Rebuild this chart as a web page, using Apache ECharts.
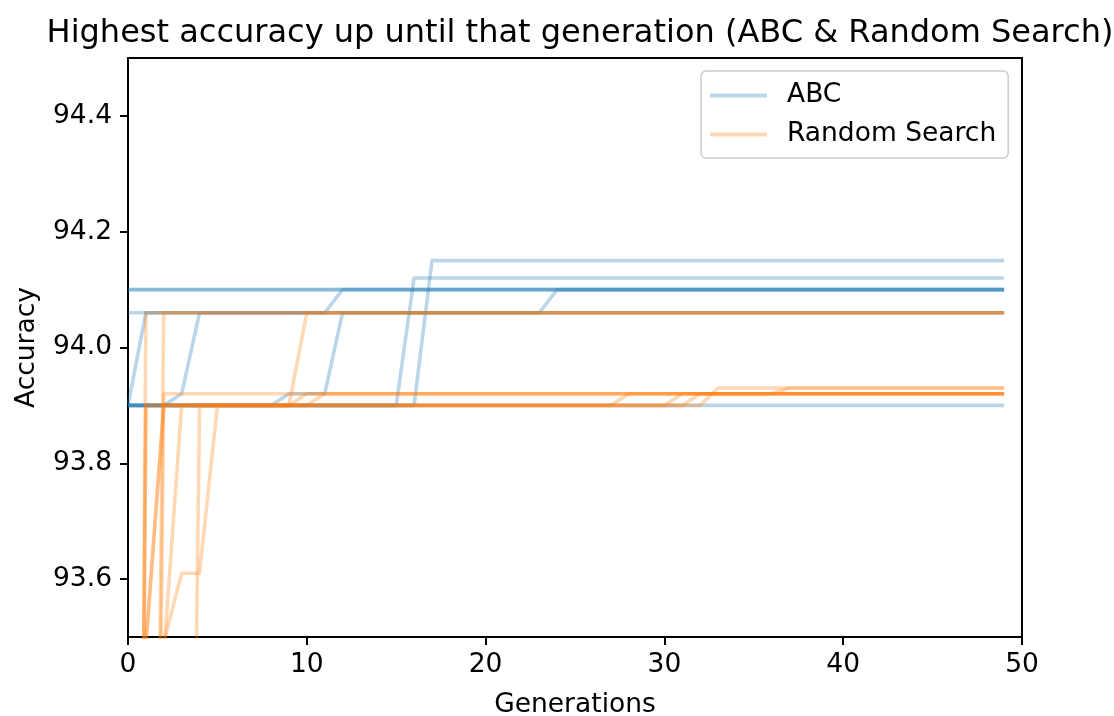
<!DOCTYPE html>
<html><head><meta charset="utf-8">
<script src="https://cdn.jsdelivr.net/npm/echarts@6/dist/echarts.min.js"></script>
<style>html,body{margin:0;padding:0;background:#fff}#c{width:1114px;height:716px}</style>
</head><body><div id="c"></div>
<script>
// Generations (x values)
const generations = [0,1,2,3,4,5,6,7,8,9,10,11,12,13,14,15,16,17,18,19,20,21,22,23,24,25,26,27,28,29,30,31,32,33,34,35,36,37,38,39,40,41,42,43,44,45,46,47,48,49];

// ABC runs: highest accuracy so far per generation
const abc1 = [94.10,94.10,94.10,94.10,94.10,94.10,94.10,94.10,94.10,94.10, 94.10,94.10,94.10,94.10,94.10,94.10,94.10,94.10,94.10,94.10, 94.10,94.10,94.10,94.10,94.10,94.10,94.10,94.10,94.10,94.10, 94.10,94.10,94.10,94.10,94.10,94.10,94.10,94.10,94.10,94.10, 94.10,94.10,94.10,94.10,94.10,94.10,94.10,94.10,94.10,94.10];
const abc2 = [94.10,94.10,94.10,94.10,94.10,94.10,94.10,94.10,94.10,94.10, 94.10,94.10,94.10,94.10,94.10,94.10,94.10,94.10,94.10,94.10, 94.10,94.10,94.10,94.10,94.10,94.10,94.10,94.10,94.10,94.10, 94.10,94.10,94.10,94.10,94.10,94.10,94.10,94.10,94.10,94.10, 94.10,94.10,94.10,94.10,94.10,94.10,94.10,94.10,94.10,94.10];
const abc3 = [94.06,94.06,94.06,94.06,94.06,94.06,94.06,94.06,94.06,94.06, 94.06,94.06,94.10,94.10,94.10,94.10,94.10,94.10,94.10,94.10, 94.10,94.10,94.10,94.10,94.10,94.10,94.10,94.10,94.10,94.10, 94.10,94.10,94.10,94.10,94.10,94.10,94.10,94.10,94.10,94.10, 94.10,94.10,94.10,94.10,94.10,94.10,94.10,94.10,94.10,94.10];
const abc4 = [93.90,94.06,94.06,94.06,94.06,94.06,94.06,94.06,94.06,94.06, 94.06,94.06,94.06,94.06,94.06,94.06,94.06,94.06,94.06,94.06, 94.06,94.06,94.06,94.06,94.10,94.10,94.10,94.10,94.10,94.10, 94.10,94.10,94.10,94.10,94.10,94.10,94.10,94.10,94.10,94.10, 94.10,94.10,94.10,94.10,94.10,94.10,94.10,94.10,94.10,94.10];
const abc5 = [93.90,93.90,93.90,93.92,94.06,94.06,94.06,94.06,94.06,94.06, 94.06,94.06,94.06,94.06,94.06,94.06,94.06,94.06,94.06,94.06, 94.06,94.06,94.06,94.06,94.06,94.06,94.06,94.06,94.06,94.06, 94.06,94.06,94.06,94.06,94.06,94.06,94.06,94.06,94.06,94.06, 94.06,94.06,94.06,94.06,94.06,94.06,94.06,94.06,94.06,94.06];
const abc6 = [93.90,93.90,93.90,93.90,93.90,93.90,93.90,93.90,93.90,93.92, 93.92,93.92,94.06,94.06,94.06,94.06,94.06,94.06,94.06,94.06, 94.06,94.06,94.06,94.06,94.06,94.06,94.06,94.06,94.06,94.06, 94.06,94.06,94.06,94.06,94.06,94.06,94.06,94.06,94.06,94.06, 94.06,94.06,94.06,94.06,94.06,94.06,94.06,94.06,94.06,94.06];
const abc7 = [93.90,93.90,93.90,93.90,93.90,93.90,93.90,93.90,93.90,93.90, 93.90,93.90,93.90,93.90,93.90,93.90,94.12,94.12,94.12,94.12, 94.12,94.12,94.12,94.12,94.12,94.12,94.12,94.12,94.12,94.12, 94.12,94.12,94.12,94.12,94.12,94.12,94.12,94.12,94.12,94.12, 94.12,94.12,94.12,94.12,94.12,94.12,94.12,94.12,94.12,94.12];
const abc8 = [93.90,93.90,93.90,93.90,93.90,93.90,93.90,93.90,93.90,93.90, 93.90,93.90,93.90,93.90,93.90,93.90,93.90,94.15,94.15,94.15, 94.15,94.15,94.15,94.15,94.15,94.15,94.15,94.15,94.15,94.15, 94.15,94.15,94.15,94.15,94.15,94.15,94.15,94.15,94.15,94.15, 94.15,94.15,94.15,94.15,94.15,94.15,94.15,94.15,94.15,94.15];
const abc9 = [93.90,93.90,93.90,93.90,93.90,93.90,93.90,93.90,93.90,93.90, 93.90,93.90,93.90,93.90,93.90,93.90,93.90,93.90,93.90,93.90, 93.90,93.90,93.90,93.90,93.90,93.90,93.90,93.90,93.90,93.90, 93.90,93.90,93.90,93.90,93.90,93.90,93.90,93.90,93.90,93.90, 93.90,93.90,93.90,93.90,93.90,93.90,93.90,93.90,93.90,93.90];

// Random Search runs
const rs1 = [89.6,94.06,94.06,94.06,94.06,94.06,94.06,94.06,94.06,94.06, 94.06,94.06,94.06,94.06,94.06,94.06,94.06,94.06,94.06,94.06, 94.06,94.06,94.06,94.06,94.06,94.06,94.06,94.06,94.06,94.06, 94.06,94.06,94.06,94.06,94.06,94.06,94.06,94.06,94.06,94.06, 94.06,94.06,94.06,94.06,94.06,94.06,94.06,94.06,94.06,94.06];
const rs2 = [89.2,91.4,94.06,94.06,94.06,94.06,94.06,94.06,94.06,94.06, 94.06,94.06,94.06,94.06,94.06,94.06,94.06,94.06,94.06,94.06, 94.06,94.06,94.06,94.06,94.06,94.06,94.06,94.06,94.06,94.06, 94.06,94.06,94.06,94.06,94.06,94.06,94.06,94.06,94.06,94.06, 94.06,94.06,94.06,94.06,94.06,94.06,94.06,94.06,94.06,94.06];
const rs3 = [88.9,91.0,93.92,93.92,93.92,93.92,93.92,93.92,93.92,93.92, 93.92,93.92,93.92,93.92,93.92,93.92,93.92,93.92,93.92,93.92, 93.92,93.92,93.92,93.92,93.92,93.92,93.92,93.92,93.92,93.92, 93.92,93.92,93.92,93.92,93.92,93.92,93.92,93.93,93.93,93.93, 93.93,93.93,93.93,93.93,93.93,93.93,93.93,93.93,93.93,93.93];
const rs4 = [89.8,93.90,93.90,93.90,93.90,93.90,93.90,93.90,93.90,93.90, 94.06,94.06,94.06,94.06,94.06,94.06,94.06,94.06,94.06,94.06, 94.06,94.06,94.06,94.06,94.06,94.06,94.06,94.06,94.06,94.06, 94.06,94.06,94.06,94.06,94.06,94.06,94.06,94.06,94.06,94.06, 94.06,94.06,94.06,94.06,94.06,94.06,94.06,94.06,94.06,94.06];
const rs5 = [90.1,93.90,93.90,93.90,93.90,93.90,93.90,93.90,93.90,93.90, 93.92,93.92,93.92,93.92,93.92,93.92,93.92,93.92,93.92,93.92, 93.92,93.92,93.92,93.92,93.92,93.92,93.92,93.92,93.92,93.92, 93.92,93.92,93.92,93.92,93.92,93.92,93.92,93.92,93.92,93.92, 93.92,93.92,93.92,93.92,93.92,93.92,93.92,93.92,93.92,93.92];
const rs6 = [89.4,93.48,93.90,93.90,93.90,93.90,93.90,93.90,93.90,93.90, 93.90,93.92,93.92,93.92,93.92,93.92,93.92,93.92,93.92,93.92, 93.92,93.92,93.92,93.92,93.92,93.92,93.92,93.92,93.92,93.92, 93.92,93.92,93.92,93.92,93.92,93.92,93.92,93.92,93.92,93.92, 93.92,93.92,93.92,93.92,93.92,93.92,93.92,93.92,93.92,93.92];
const rs7 = [89.0,93.49,93.90,93.90,93.90,93.90,93.90,93.90,93.90,93.90, 93.90,93.90,93.90,93.90,93.90,93.90,93.90,93.90,93.90,93.90, 93.90,93.90,93.90,93.90,93.90,93.90,93.90,93.90,93.92,93.92, 93.92,93.92,93.92,93.92,93.92,93.92,93.92,93.92,93.92,93.92, 93.92,93.92,93.92,93.92,93.92,93.92,93.92,93.92,93.92,93.92];
const rs8 = [88.7,91.6,93.47,93.90,93.90,93.90,93.90,93.90,93.90,93.90, 93.90,93.90,93.90,93.90,93.90,93.90,93.90,93.90,93.90,93.90, 93.90,93.90,93.90,93.90,93.90,93.90,93.90,93.90,93.90,93.90, 93.90,93.92,93.92,93.92,93.92,93.92,93.92,93.92,93.92,93.92, 93.92,93.92,93.92,93.92,93.92,93.92,93.92,93.92,93.92,93.92];
const rs9 = [88.5,91.9,93.49,93.61,93.61,93.90,93.90,93.90,93.90,93.90, 93.90,93.90,93.90,93.90,93.90,93.90,93.90,93.90,93.90,93.90, 93.90,93.90,93.90,93.90,93.90,93.90,93.90,93.90,93.90,93.90, 93.90,93.90,93.92,93.92,93.92,93.92,93.92,93.92,93.92,93.92, 93.92,93.92,93.92,93.92,93.92,93.92,93.92,93.92,93.92,93.92];
const rs10 = [88.2,90.6,91.1,91.5,93.90,93.90,93.90,93.90,93.90,93.90, 93.90,93.90,93.90,93.90,93.90,93.90,93.90,93.90,93.90,93.90, 93.90,93.90,93.90,93.90,93.90,93.90,93.90,93.90,93.90,93.90, 93.90,93.90,93.90,93.93,93.93,93.93,93.93,93.93,93.93,93.93, 93.93,93.93,93.93,93.93,93.93,93.93,93.93,93.93,93.93,93.93];

const abcRuns = [abc1, abc2, abc3, abc4, abc5, abc6, abc7, abc8, abc9];
const rsRuns = [rs1, rs2, rs3, rs4, rs5, rs6, rs7, rs8, rs9, rs10];

const xTicks = [0, 10, 20, 30, 40, 50];
const yTicks = [93.6, 93.8, 94.0, 94.2, 94.4];
const seriesNames = ['ABC', 'Random Search'];
const titleText = 'Highest accuracy up until that generation (ABC & Random Search)';

const FONT = 'DejaVu Sans';
const BLUE = 'rgba(31,119,180,0.3)';
const ORANGE = 'rgba(255,127,14,0.3)';
const FS = 26.5;

function mkSeries(name, color, run) {
  return {
    type: 'line', name: name, symbol: 'none', clip: true,
    data: run.map((v, i) => [generations[i], v]),
    lineStyle: { color: color, width: 3.6, join: 'round' },
    itemStyle: { color: color },
    emphasis: { disabled: true }
  };
}
const series = [];
abcRuns.forEach(r => series.push(mkSeries(seriesNames[0], BLUE, r)));
rsRuns.forEach(r => series.push(mkSeries(seriesNames[1], ORANGE, r)));

const chart = echarts.init(document.getElementById('c'), null, { renderer: 'canvas' });
chart.setOption({
  animation: false,
  backgroundColor: '#fff',
  title: {
    text: titleText, left: 575, top: 13, textAlign: 'center',
    textStyle: { fontFamily: FONT, fontSize: 32, fontWeight: 'normal', color: '#000' }
  },
  grid: {
    left: 128, right: 92, top: 58, bottom: 79, containLabel: false, outerBoundsMode: 'none',
    show: true, borderColor: '#000', borderWidth: 2, backgroundColor: 'transparent'
  },
  legend: {
    data: seriesNames, orient: 'vertical', left: 701, top: 71,
    icon: 'rect', itemWidth: 57, itemHeight: 4, itemGap: 12,
    padding: [11, 12, 10, 9],
    backgroundColor: 'rgba(255,255,255,0.8)', borderColor: '#cccccc', borderWidth: 1.5, borderRadius: 5,
    textStyle: { fontFamily: FONT, fontSize: FS, color: '#000', padding: [0, 0, 0, 15] },
    selectedMode: false
  },
  xAxis: {
    type: 'value', min: 0, max: 50, interval: 10,
    name: 'Generations', nameLocation: 'middle', nameGap: 55,
    nameTextStyle: { fontFamily: FONT, fontSize: FS, color: '#000' },
    axisLine: { show: true, onZero: false, lineStyle: { color: '#000', width: 2 } },
    axisTick: { show: true, length: 8, lineStyle: { color: '#000', width: 2 } },
    axisLabel: { margin: 15, fontFamily: FONT, fontSize: FS, color: '#000', customValues: xTicks },
    splitLine: { show: false }
  },
  yAxis: {
    type: 'value', min: 93.5, max: 94.5,
    name: 'Accuracy', nameLocation: 'middle', nameGap: 87,
    nameTextStyle: { fontFamily: FONT, fontSize: FS, color: '#000' },
    axisLine: { show: true, onZero: false, lineStyle: { color: '#000', width: 2 } },
    axisTick: { show: true, length: 8, customValues: yTicks, lineStyle: { color: '#000', width: 2 } },
    axisLabel: { margin: 16, fontFamily: FONT, fontSize: FS, color: '#000', customValues: yTicks, formatter: v => Number(v).toFixed(1) },
    splitLine: { show: false }
  },
  series: series
});
</script>
</body></html>
